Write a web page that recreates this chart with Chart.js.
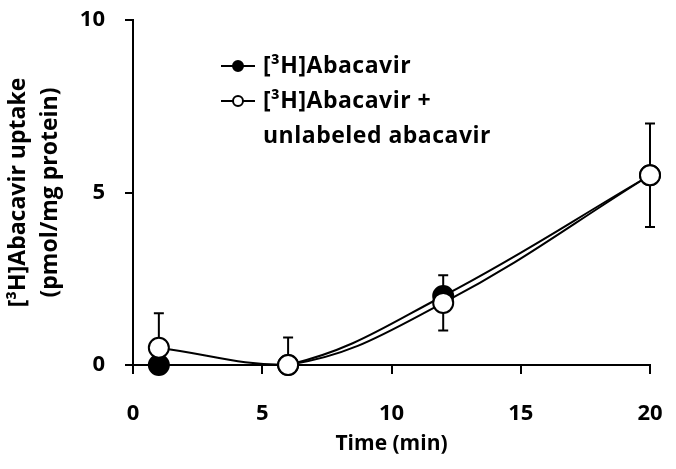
<!DOCTYPE html>
<html>
<head>
<meta charset="utf-8">
<script src="https://cdn.jsdelivr.net/npm/chart.js@4"></script>
<style>
  html, body { margin: 0; padding: 0; background: #fff; }
  #wrap { width: 676px; height: 469px; position: relative; }
</style>
</head>
<body>
<div id="wrap"><canvas id="c" width="676" height="469"></canvas></div>
<script>
// ---- data ----
const timeMin = [1, 6, 12, 20];
const abacavir = [0, 0, 2.0, 5.5];
const abacavirUnlabeled = [0.5, 0, 1.8, 5.5];
const errPlusUnlabeled = [1.0, 0.8, 0.8, 1.5];
const errMinusUnlabeled = [0, 0, 0.8, 1.5];
const xTicks = [0, 5, 10, 15, 20];
const yTicks = [0, 5, 10];
const legendLabels = [["[³H]Abacavir"], ["[³H]Abacavir +", "unlabeled abacavir"]];

const FONT = "'Open Sans', 'DejaVu Sans', sans-serif";

const errorBars = {
  id: 'errorBars',
  beforeDatasetsDraw(chart) {
    const {ctx, scales: {x, y}} = chart;
    ctx.save();
    ctx.strokeStyle = '#000';
    ctx.lineWidth = 2;
    const cap = 5;
    timeMin.forEach((t, i) => {
      const px = x.getPixelForValue(t);
      const v = abacavirUnlabeled[i];
      const top = y.getPixelForValue(v + errPlusUnlabeled[i]);
      const bot = y.getPixelForValue(v - errMinusUnlabeled[i]);
      ctx.beginPath();
      ctx.moveTo(px, top); ctx.lineTo(px, bot);
      if (errPlusUnlabeled[i] > 0) { ctx.moveTo(px - cap, top); ctx.lineTo(px + cap, top); }
      if (errMinusUnlabeled[i] > 0) { ctx.moveTo(px - cap, bot); ctx.lineTo(px + cap, bot); }
      ctx.stroke();
    });
    ctx.restore();
  }
};

const customLegend = {
  id: 'customLegend',
  afterDraw(chart) {
    const ctx = chart.ctx;
    ctx.save();
    ctx.font = "bold 23px " + FONT;
    try { ctx.letterSpacing = '0.5px'; } catch (e) {}
    ctx.textBaseline = 'middle';
    ctx.fillStyle = '#000';
    const x0 = 221, x1 = 255, tx = 263;
    const rows = [66, 101];
    const lineGap = 35;
    legendLabels.forEach((lines, i) => {
      const yy = rows[i];
      ctx.strokeStyle = '#000';
      ctx.lineWidth = 2;
      ctx.beginPath(); ctx.moveTo(x0, yy); ctx.lineTo(x1, yy); ctx.stroke();
      ctx.beginPath(); ctx.arc((x0 + x1) / 2, yy, 5, 0, Math.PI * 2);
      ctx.fillStyle = i === 0 ? '#000' : '#fff';
      ctx.fill(); ctx.stroke();
      ctx.fillStyle = '#000';
      lines.forEach((l, j) => ctx.fillText(l, tx, yy + j * lineGap));
    });
    ctx.restore();
  }
};

new Chart(document.getElementById('c'), {
  type: 'line',
  data: {
    datasets: [
      {
        label: legendLabels[0][0],
        data: timeMin.map((t, i) => ({x: t, y: abacavir[i]})),
        borderColor: '#000', borderWidth: 2,
        pointBackgroundColor: '#000', pointBorderColor: '#000',
        pointRadius: 10, pointBorderWidth: 2,
        tension: 0.4, clip: false, order: 1
      },
      {
        label: legendLabels[1].join(' '),
        data: timeMin.map((t, i) => ({x: t, y: abacavirUnlabeled[i]})),
        borderColor: '#000', borderWidth: 2,
        pointBackgroundColor: '#fff', pointBorderColor: '#000',
        pointRadius: 10, pointBorderWidth: 2,
        tension: 0.4, clip: false, order: 0
      }
    ]
  },
  options: {
    responsive: false,
    animation: false,
    devicePixelRatio: 1,
    layout: { padding: { left: 0, right: 26, top: 20, bottom: 0 } },
    plugins: { legend: { display: false }, tooltip: { enabled: false } },
    scales: {
      x: {
        type: 'linear', min: 0, max: 20,
        afterFit(s) { s.height = 104; s.paddingLeft = 0; s.paddingRight = 0; },
        afterBuildTicks(s) { s.ticks = xTicks.map(v => ({value: v})); },
        grid: { display: true, drawOnChartArea: false, drawTicks: true, tickLength: 9, color: '#000', lineWidth: 2 },
        border: { display: true, color: '#000', width: 2 },
        ticks: { color: '#000', padding: 27, font: { family: FONT, size: 22, weight: 'bold' }, maxRotation: 0 },
        title: { display: true, text: 'Time (min)', color: '#000', padding: { top: 0, bottom: 12 },
                 font: { family: FONT, size: 21, weight: 'bold' } }
      },
      y: {
        type: 'linear', min: 0, max: 10,
        afterFit(s) { s.width = 133; s.paddingTop = 0; s.paddingBottom = 0; },
        afterBuildTicks(s) { s.ticks = yTicks.map(v => ({value: v})); },
        grid: { display: true, drawOnChartArea: false, drawTicks: true, tickLength: 8, color: '#000', lineWidth: 2 },
        border: { display: true, color: '#000', width: 2 },
        ticks: { color: '#000', padding: 20, font: { family: FONT, size: 22, weight: 'bold' } },
        title: { display: true, text: ['[³H]Abacavir uptake', '(pmol/mg protein)'], color: '#000',
                 padding: { top: 2, bottom: 0 },
                 font: { family: FONT, size: 23, weight: 'bold', lineHeight: 1.39 } }
      }
    }
  },
  plugins: [errorBars, customLegend]
});
</script>
</body>
</html>
